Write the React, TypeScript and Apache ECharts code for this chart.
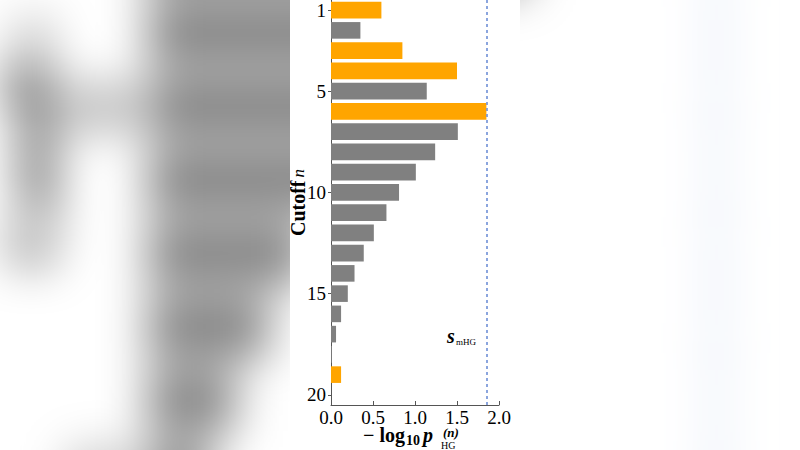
import * as echarts from 'echarts'
import { useEffect, useRef } from 'react'

// cutoff index n (1..20) and the bar length -log10 p_HG^(n)
const cutoffs = ['1', '2', '3', '4', '5', '6', '7', '8', '9', '10', '11', '12', '13', '14', '15', '16', '17', '18', '19', '20']
const scores = [0.6, 0.35, 0.85, 1.5, 1.14, 1.85, 1.51, 1.24, 1.01, 0.81, 0.66, 0.51, 0.39, 0.28, 0.2, 0.12, 0.06, 0.01, 0.12, 0]
// cutoffs drawn in orange
const highlighted = ['1', '3', '4', '6', '19']
const shownCutoffs = ['1', '5', '10', '15', '20']
const sMHG = 1.853

const ORANGE = '#FFA500'
const GRAY = '#808080'
const SERIF = 'Liberation Serif, serif'

const PANEL_W = 230
const PANEL_H = 450
const SCALE = 800 / 220

export default function App() {
  const chartRef = useRef<HTMLDivElement>(null)
  const bgRef = useRef<HTMLImageElement>(null)

  useEffect(() => {
    if (!chartRef.current) return
    const chart = echarts.init(chartRef.current, null, { renderer: 'svg' })

    const showLabel = (_i: number, v: string) => shownCutoffs.includes(v)

    const option: any = {
      animation: false,
      backgroundColor: '#fff',
      grid: { left: 41, right: 21, top: 0, bottom: 45, outerBoundsMode: 'none', containLabel: false },
      xAxis: {
        type: 'value',
        min: 0,
        max: 2,
        interval: 0.5,
        axisLine: { show: true, lineStyle: { color: '#555', width: 1 } },
        axisTick: { show: true, inside: true, length: 4, lineStyle: { color: '#555' } },
        splitLine: { show: false },
        axisLabel: {
          formatter: (v: number) => v.toFixed(1),
          fontFamily: SERIF,
          fontSize: 19,
          color: '#000',
          margin: 3
        }
      },
      yAxis: {
        type: 'category',
        data: cutoffs,
        inverse: true,
        name: '{a|Cutoff}{b|n}',
        nameLocation: 'middle',
        nameGap: 23,
        nameMoveOverlap: false,
        nameTextStyle: {
          rich: {
            a: { fontFamily: SERIF, fontSize: 20, fontWeight: 'bold', color: '#000' },
            b: { fontFamily: SERIF, fontSize: 17, fontStyle: 'italic', color: '#000', padding: [0, 0, 0, 3] }
          }
        },
        axisLine: { show: true, lineStyle: { color: '#555', width: 1 } },
        axisTick: { show: true, alignWithLabel: true, interval: showLabel, length: 3, lineStyle: { color: '#555' } },
        splitLine: { show: false },
        axisLabel: {
          interval: showLabel,
          fontFamily: SERIF,
          fontSize: 19,
          color: '#000',
          margin: 5
        }
      },
      series: [
        {
          type: 'bar',
          barCategoryGap: '18%',
          data: scores.map((v, i) => ({
            value: v,
            itemStyle: { color: highlighted.includes(cutoffs[i]) ? ORANGE : GRAY }
          })),
          markLine: {
            silent: true,
            symbol: ['none', 'none'],
            label: { show: false },
            lineStyle: { color: '#6f8fd6', width: 1.6, type: [3, 3] },
            data: [{ xAxis: sMHG }]
          }
        }
      ],
      graphic: [
        { type: 'text', x: 73, y: 435.2, style: { text: '− log', font: `bold 20px ${SERIF}`, fill: '#000', textAlign: 'left', verticalAlign: 'middle' } },
        { type: 'text', x: 116, y: 440, style: { text: '10', font: `bold 14px ${SERIF}`, fill: '#000', textAlign: 'left', verticalAlign: 'middle' } },
        { type: 'text', x: 133, y: 435.2, style: { text: 'p', font: `italic bold 20px ${SERIF}`, fill: '#000', textAlign: 'left', verticalAlign: 'middle' } },
        { type: 'text', x: 153, y: 432, style: { text: '(n)', font: `italic bold 13px ${SERIF}`, fill: '#000', textAlign: 'left', verticalAlign: 'middle' } },
        { type: 'text', x: 151, y: 445.2, style: { text: 'HG', font: `10px ${SERIF}`, fill: '#000', textAlign: 'left', verticalAlign: 'middle' } },
        { type: 'text', x: 157, y: 336.2, style: { text: 's', font: `italic bold 20px ${SERIF}`, fill: '#000', textAlign: 'left', verticalAlign: 'middle' } },
        { type: 'text', x: 166, y: 342, style: { text: 'mHG', font: `9px ${SERIF}`, fill: '#000', textAlign: 'left', verticalAlign: 'middle' } }
      ]
    }

    chart.setOption(option)

    // blurred, enlarged copy of the chart as the backdrop
    try {
      let svg = chart.renderToSVGString()
      if (svg.indexOf('xmlns=') < 0) {
        svg = svg.replace('<svg', '<svg xmlns="http://www.w3.org/2000/svg"')
      }
      if (bgRef.current) {
        bgRef.current.src = 'data:image/svg+xml;charset=utf-8,' + encodeURIComponent(svg)
      }
    } catch (e) {
      // no backdrop
    }

    return () => {
      chart.dispose()
    }
  }, [])

  return (
    <div style={{ position: 'fixed', left: 0, top: 0, width: 800, height: 450, overflow: 'hidden', background: '#fff' }}>
      <img
        ref={bgRef}
        alt=""
        style={{
          position: 'absolute',
          left: 290,
          top: 0,
          width: PANEL_W,
          height: PANEL_H,
          transformOrigin: '110px 225px',
          transform: `scale(${SCALE})`,
          filter: 'blur(6.5px)'
        }}
      />
      <div
        ref={chartRef}
        style={{ position: 'absolute', left: 290, top: 0, width: PANEL_W, height: PANEL_H }}
      />
    </div>
  )
}
